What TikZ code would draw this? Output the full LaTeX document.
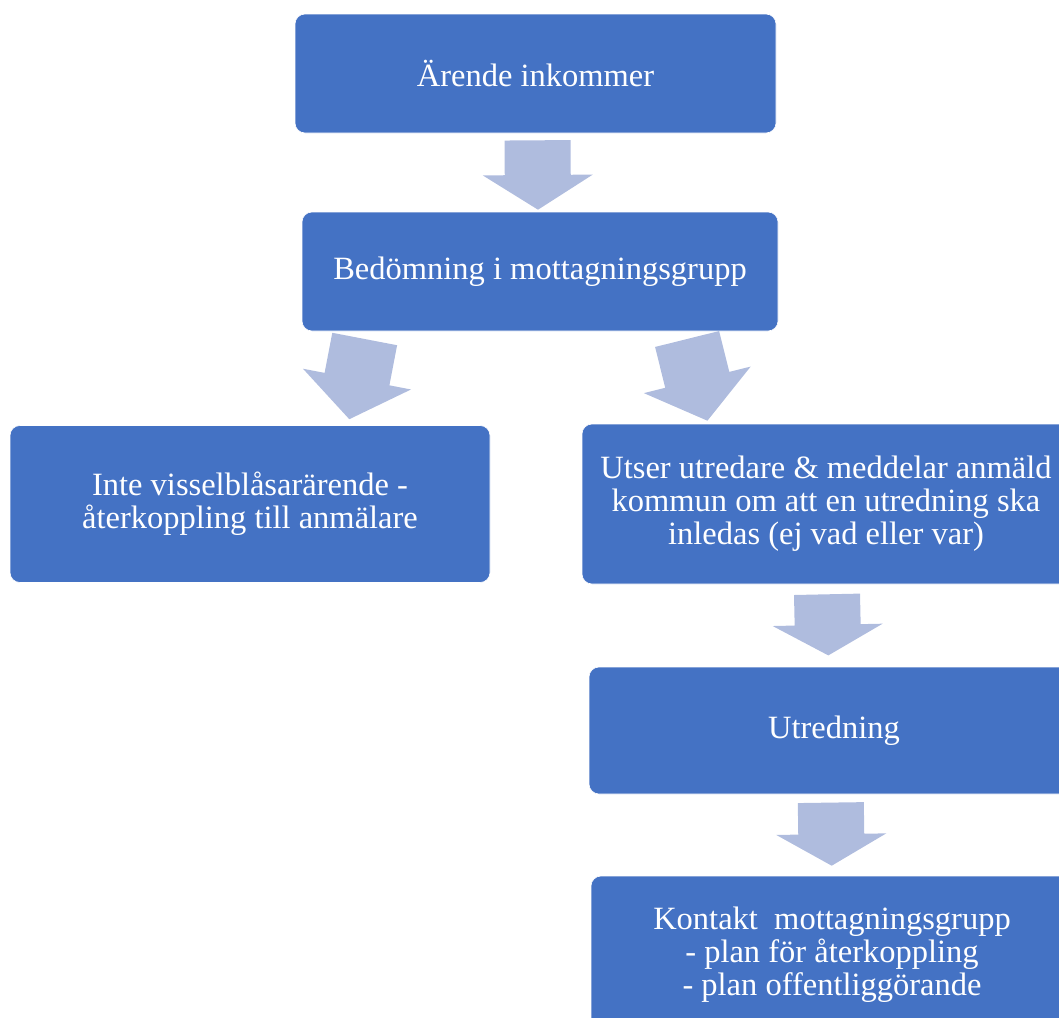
\documentclass[tikz,border=0pt]{standalone}
\usepackage{fontspec}
\setmainfont{Liberation Serif}
\usetikzlibrary{calc}

\definecolor{rutblå}{RGB}{68,114,196}
\definecolor{pilfärg}{RGB}{175,188,222}

\tikzset{
  ruta/.style={fill=rutblå, draw=white, line width=.6pt, rounded corners=10pt, text=white, align=center,
    inner sep=0pt, font=\fontsize{32.5}{33}\selectfont},
  pil/.style={fill=pilfärg, to path={
    ($(\tikztostart)!33pt!90:(\tikztotarget)$)
    -- ($(\tikztostart)!0.5!(\tikztotarget)!33pt!90:(\tikztotarget)$)
    -- ($(\tikztostart)!0.5!(\tikztotarget)!55pt!90:(\tikztotarget)$)
    -- (\tikztotarget)
    -- ($(\tikztostart)!0.5!(\tikztotarget)!55pt!-90:(\tikztotarget)$)
    -- ($(\tikztostart)!0.5!(\tikztotarget)!33pt!-90:(\tikztotarget)$)
    -- ($(\tikztostart)!33pt!-90:(\tikztotarget)$) -- cycle}}
}

\begin{document}
\begin{tikzpicture}[x=1pt,y=-1pt]
    \useasboundingbox (0,0) rectangle (1059,1017);

    \node[ruta, minimum width=481, minimum height=119] (ingang) at (535.5,73.5) {Ärende inkommer};
    \node[ruta, minimum width=476, minimum height=119] (bedomning) at (540,271.5) {Bedömning i mottagningsgrupp};
    \node[ruta, minimum width=480, minimum height=157] (inte) at (250,504) {Inte visselblåsarärende -\\återkoppling till anmälare};
    \node[ruta, minimum width=488, minimum height=160] (utser) at (826,504) {Utser utredare \& meddelar anmäld\\kommun om att en utredning ska\\inledas (ej vad eller var)};
    \node[ruta, minimum width=490, minimum height=127] (utredning) at (834,730.5) {Utredning};
    \node[ruta, minimum width=482, minimum height=157] (kontakt) at (832,954.5) {Kontakt~ mottagningsgrupp\\- plan för återkoppling\\- plan offentliggörande};

    \path[pil] ($(ingang.south)+(2,7)$) to ($(bedomning.north)+(-2,-2)$);
    \path[pil] ($(bedomning.south west)+(63,7.7)$) to ($(inte.north)+(99.3,-6)$);
    \path[pil] ($(bedomning.south east)+(-91.2,7.7)$) to ($(utser.north west)+(125.7,-3)$);
    \path[pil] ($(utser.south)+(1,10)$) to ($(utredning.north)+(-5.7,-11.3)$);
    \path[pil] ($(utredning.south)+(-3.2,8.3)$) to ($(kontakt.north)+(-0.3,-10)$);
\end{tikzpicture}
\end{document}
